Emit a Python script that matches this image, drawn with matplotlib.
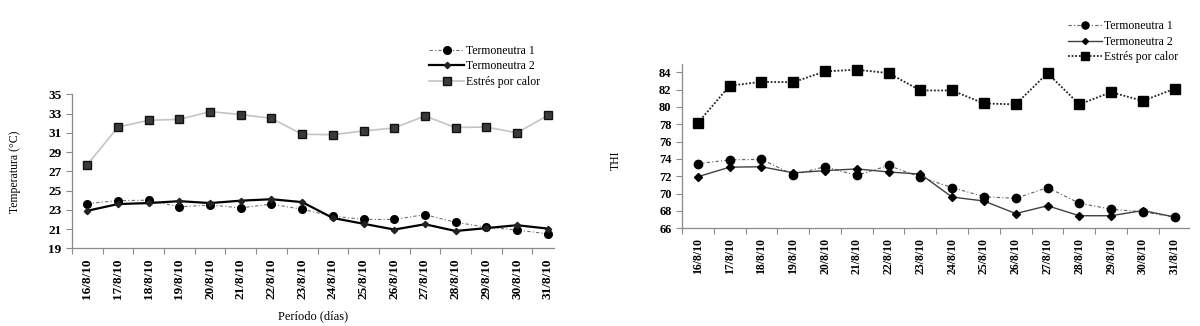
import matplotlib
matplotlib.use("Agg")
import matplotlib.pyplot as plt

plt.rcParams['font.family'] = ['Liberation Serif', 'DejaVu Serif']

dias = ["16/8/10", "17/8/10", "18/8/10", "19/8/10", "20/8/10", "21/8/10",
        "22/8/10", "23/8/10", "24/8/10", "25/8/10", "26/8/10", "27/8/10",
        "28/8/10", "29/8/10", "30/8/10", "31/8/10"]

# temperatura (°C)
temp_tn1 = [23.65, 23.95, 24.0, 23.3, 23.5, 23.2, 23.6, 23.05, 22.35, 22.0,
            22.0, 22.5, 21.7, 21.2, 20.9, 20.5]
temp_tn2 = [22.9, 23.6, 23.7, 23.9, 23.7, 23.95, 24.1, 23.8, 22.15, 21.55,
            20.95, 21.5, 20.8, 21.1, 21.4, 21.05]
temp_calor = [27.7, 31.6, 32.3, 32.4, 33.2, 32.9, 32.5, 30.85, 30.8, 31.2,
              31.5, 32.75, 31.55, 31.6, 31.0, 32.8]

# indice de temperatura y humedad
thi_tn1 = [73.45, 73.9, 73.95, 72.2, 73.1, 72.1, 73.25, 71.9, 70.7, 69.65,
           69.45, 70.7, 68.9, 68.2, 67.9, 67.3]
thi_tn2 = [71.95, 73.05, 73.1, 72.4, 72.65, 72.85, 72.5, 72.25, 69.6, 69.15,
           67.7, 68.6, 67.45, 67.45, 68.05, 67.3]
thi_calor = [78.15, 82.45, 82.9, 82.85, 84.1, 84.3, 83.9, 81.9, 81.9, 80.4,
             80.3, 83.9, 80.3, 81.7, 80.7, 82.1]

fig = plt.figure(figsize=(12, 3.26), dpi=100)
ax1 = fig.add_axes([0.06, 0.2383, 0.4015, 0.4724])
ax2 = fig.add_axes([0.5683, 0.2997, 0.4225, 0.5052])

x = list(range(len(dias)))


def formato(ax, ymin, ymax, xmax, fx, fy):
    for s in ['top', 'right']:
        ax.spines[s].set_visible(False)
    for s in ['left', 'bottom']:
        ax.spines[s].set_color('#8a8a8a')
        ax.spines[s].set_linewidth(0.9)
    ax.set_xlim(-0.5, xmax)
    ax.set_ylim(ymin, ymax)
    # marcas entre categorias, etiquetas centradas en cada dia
    ax.set_xticks([i - 0.5 for i in range(len(dias) + 1) if i - 0.5 <= xmax])
    ax.set_xticklabels([])
    ax.set_xticks(x, minor=True)
    ax.set_xticklabels(dias, minor=True, rotation=90, fontsize=fx,
                       fontweight='bold')
    ax.tick_params(axis='x', which='major', length=4, color='#8a8a8a')
    ax.tick_params(axis='x', which='minor', length=0, pad=7)
    ax.tick_params(axis='y', length=4, color='#8a8a8a', labelsize=fy)
    for t in ax.get_yticklabels():
        t.set_fontweight('bold')


# grafico de temperatura
ax1.plot(x, temp_tn1, linestyle=(0, (3, 2, 1, 2)), color='#707070', lw=0.8,
         marker='o', ms=5.5, mfc='black', mec='black', label='Termoneutra 1')
ax1.plot(x, temp_tn2, linestyle='-', color='black', lw=1.6,
         marker='D', ms=3.2, mfc='#222222', mec='#222222', label='Termoneutra 2')
ax1.plot(x, temp_calor, linestyle='-', color='#c4c4c4', lw=1.2,
         marker='s', ms=5.5, mfc='#3a3a3a', mec='#111111', label='Estrés por calor')
ax1.set_yticks(range(19, 36, 2))
formato(ax1, 19, 35, 15.2, 9.5, 9.5)
ax1.set_ylabel('Temperatura (°C)', fontsize=8.5)
ax1.yaxis.set_label_coords(-0.105, 0.5)
ax1.set_xlabel('Período (días)', fontsize=9)
ax1.xaxis.set_label_coords(0.5, -0.40)
ax1.legend(loc='upper left', bbox_to_anchor=(0.349, 0.895),
           bbox_transform=fig.transFigure, frameon=False, fontsize=8.5,
           handlelength=2.9, handletextpad=0.2, labelspacing=0.3)

# grafico de THI
ax2.plot(x, thi_tn1, linestyle=(0, (3, 2, 1, 2)), color='#606060', lw=0.8,
         marker='o', ms=6, mfc='black', mec='black', label='Termoneutra 1')
ax2.plot(x, thi_tn2, linestyle='-', color='#404040', lw=1.0,
         marker='D', ms=3.6, mfc='black', mec='black', label='Termoneutra 2')
ax2.plot(x, thi_calor, linestyle=(0, (1, 1)), color='#222222', lw=1.3,
         marker='s', ms=6.5, mfc='black', mec='black', label='Estrés por calor')
ax2.set_yticks(range(66, 85, 2))
formato(ax2, 66, 85, 15.45, 8.5, 9)
ax2.set_ylabel('THI', fontsize=8.5)
ax2.yaxis.set_label_coords(-0.118, 0.41)
ax2.legend(loc='upper left', bbox_to_anchor=(0.881, 0.97),
           bbox_transform=fig.transFigure, frameon=False, fontsize=8.5,
           handlelength=2.9, handletextpad=0.2, labelspacing=0.3,
           markerscale=0.85)

fig.savefig('out.png', dpi=100)
